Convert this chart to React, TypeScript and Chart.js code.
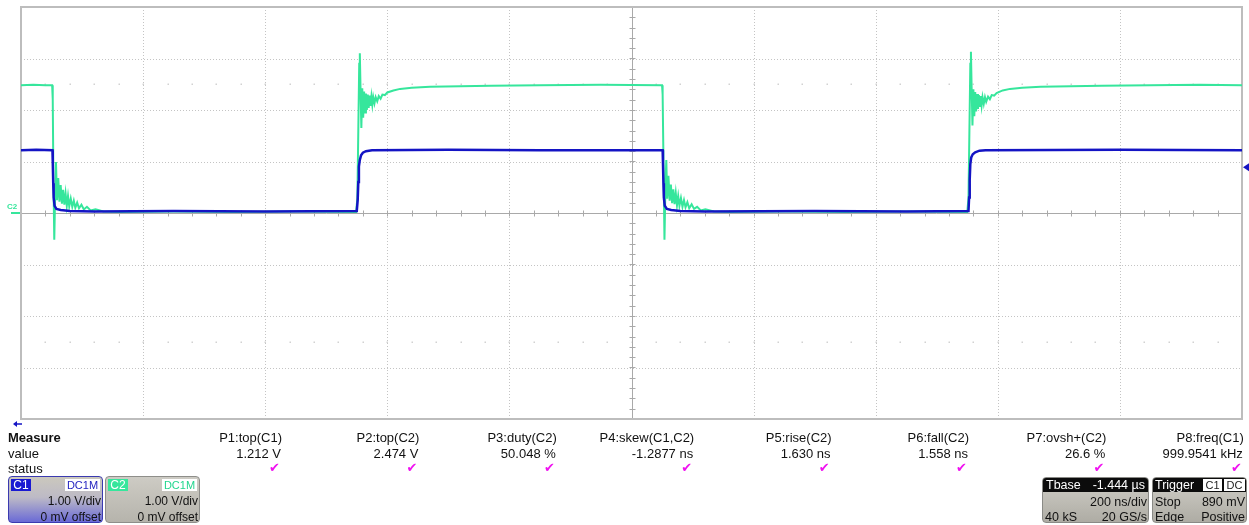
import React, { useEffect, useRef } from "react";
import { Chart, registerables } from "chart.js";

Chart.register(...registerables);

// ---- scope settings ----
const timeMinNs = 0;
const timeMaxNs = 2000;
const timePerDivNs = 200;
const voltMin = -4;
const voltMax = 4;
const voltPerDiv = 1;
const triggerLevelV = 0.89;

// ---- C2 trace (green), [time ns, volts] ----
const c2FallA: number[][] = [
  [0, 2.48], [20, 2.49], [40, 2.48], [51, 2.48], [52, 2.2], [53, 0.8], [54.5, -0.52], [56, 0.4], [57.3, 0.99],
  [59, 0.25], [61, 0.68], [63, 0.22], [65, 0.54], [67, 0.18], [69, 0.45], [71, 0.16], [73, 0.38], [75, 0.14],
  [77, 0.33], [79, 0.13], [81.5, 0.28], [84, 0.12], [86.5, 0.24], [89, 0.1], [92, 0.2], [95, 0.09], [99, 0.16],
  [103, 0.07], [108, 0.12], [114, 0.05], [122, 0.07], [135, 0.03], [160, 0.02], [250, 0.03], [350, 0.02],
  [450, 0.03], [549, 0.02],
];
const c2RiseA: number[][] = [
  [550, 0.02], [551, 0.3], [552.5, 1.6], [554, 2.9], [555, 3.1], [556, 2.5], [557.5, 1.65], [559, 2.42],
  [560.5, 1.85], [562, 2.36], [563.5, 1.95], [565, 2.32], [566.5, 2.0], [568, 2.3], [569.5, 2.04], [571, 2.28],
  [572.5, 2.08], [574, 2.26], [575.5, 2.1], [577, 2.25], [579, 2.13], [581, 2.25], [583.5, 2.17], [586, 2.27],
  [589, 2.22], [592, 2.3], [596, 2.29], [600, 2.34], [610, 2.38], [621, 2.41], [640, 2.43], [670, 2.45],
  [720, 2.46], [770, 2.47], [850, 2.48], [950, 2.49], [1049, 2.48],
];
const c2FallB: number[][] = [
  [1050, 2.48], [1051, 2.3], [1052.5, 0.9], [1054, -0.52], [1055.5, 0.45], [1057, 1.03], [1058.5, 0.28],
  [1060.5, 0.72], [1062.5, 0.24], [1064.5, 0.55], [1066.5, 0.19], [1068.5, 0.46], [1070.5, 0.17], [1072.5, 0.39],
  [1074.5, 0.15], [1076.5, 0.33], [1078.5, 0.14], [1081, 0.29], [1083.5, 0.12], [1086, 0.25], [1088.5, 0.11],
  [1091.5, 0.21], [1094.5, 0.09], [1098.5, 0.17], [1102.5, 0.08], [1107.5, 0.12], [1113.5, 0.05], [1121, 0.07],
  [1135, 0.03], [1160, 0.02], [1250, 0.03], [1350, 0.02], [1450, 0.03], [1550, 0.02],
];
const c2RiseB: number[][] = [
  [1551, 0.02], [1552, 0.3], [1553.5, 1.6], [1555, 2.9], [1556, 3.13], [1557, 2.5], [1558.5, 1.7], [1560, 2.4],
  [1561.5, 1.88], [1563, 2.35], [1564.5, 1.97], [1566, 2.31], [1567.5, 2.02], [1569, 2.29], [1570.5, 2.06],
  [1572, 2.27], [1573.5, 2.09], [1575, 2.25], [1577, 2.12], [1579, 2.25], [1581, 2.16], [1584, 2.26],
  [1587, 2.21], [1590, 2.29], [1594, 2.28], [1598, 2.33], [1608, 2.38], [1620, 2.41], [1640, 2.43],
  [1670, 2.45], [1720, 2.46], [1770, 2.47], [1850, 2.48], [1930, 2.49], [2000, 2.48],
];

// ---- C1 trace (blue), [time ns, volts] ----
const c1FallA: number[][] = [
  [0, 1.22], [25, 1.23], [51.5, 1.22], [52, 1.0], [52.8, 0.58], [53.5, 0.3], [55, 0.14], [58, 0.08], [65, 0.06],
  [80, 0.04], [120, 0.03], [250, 0.04], [400, 0.03], [550, 0.04],
];
const c1RiseA: number[][] = [
  [551.5, 0.25], [552.5, 0.6], [553.5, 0.9], [555, 1.03], [557, 1.12], [560, 1.17], [565, 1.2], [575, 1.22],
  [700, 1.23], [850, 1.22], [1051, 1.22],
];
const c1FallB: number[][] = [
  [1051.5, 1.0], [1052.3, 0.58], [1053, 0.3], [1054.5, 0.14], [1058, 0.08], [1065, 0.06], [1080, 0.04],
  [1120, 0.03], [1300, 0.04], [1450, 0.03], [1552, 0.04],
];
const c1RiseB: number[][] = [
  [1553, 0.3], [1554, 0.65], [1555, 0.95], [1556.5, 1.08], [1559, 1.14], [1563, 1.18], [1570, 1.21],
  [1580, 1.22], [1800, 1.23], [2000, 1.22],
];

// ---- measurement table ----
const measureNames = ["P1:top(C1)", "P2:top(C2)", "P3:duty(C2)", "P4:skew(C1,C2)", "P5:rise(C2)", "P6:fall(C2)", "P7:ovsh+(C2)", "P8:freq(C1)"];
const measureValues = ["1.212 V", "2.474 V", "50.048 %", "-1.2877 ns", "1.630 ns", "1.558 ns", "26.6 %", "999.9541 kHz"];

const C1_COLOR = "#1414c4";
const C2_COLOR = "#36e69c";
const FONT = '"Liberation Sans", Arial, Helvetica, sans-serif';

const toPoints = (segs: number[][][]) => segs.flat().map(([x, y]) => ({ x, y }));

const gridPlugin = {
  id: "scopeGrid",
  beforeDatasetsDraw(chart: any) {
    const { ctx, chartArea: a, scales } = chart;
    const xs = scales.x;
    const ys = scales.y;
    const line = (x1: number, y1: number, x2: number, y2: number) => {
      ctx.beginPath();
      ctx.moveTo(x1, y1);
      ctx.lineTo(x2, y2);
      ctx.stroke();
    };
    ctx.save();
    const midT = (timeMinNs + timeMaxNs) / 2;
    ctx.strokeStyle = "#c4c4c4";
    ctx.lineWidth = 1;
    ctx.setLineDash([1, 2]);
    for (let t = timeMinNs + timePerDivNs; t < timeMaxNs; t += timePerDivNs) {
      if (t === midT) continue;
      const px = Math.round(xs.getPixelForValue(t)) + 0.5;
      line(px, a.top, px, a.bottom);
    }
    for (let v = voltMin + voltPerDiv; v < voltMax; v += voltPerDiv) {
      if (v === 0) continue;
      const py = Math.round(ys.getPixelForValue(v)) + 0.5;
      line(a.left, py, a.right, py);
    }
    ctx.setLineDash([]);
    ctx.fillStyle = "#d2d2d2";
    [-2.5, 2.5].forEach((v) => {
      const py = Math.round(ys.getPixelForValue(v));
      for (let t = timeMinNs + timePerDivNs / 5; t < timeMaxNs; t += timePerDivNs / 5) {
        const px = Math.round(xs.getPixelForValue(t));
        ctx.fillRect(px - 0.5, py - 0.5, 1.5, 1.5);
      }
    });
    ctx.strokeStyle = "#a9a9a9";
    ctx.lineWidth = 1;
    const cx = Math.round(xs.getPixelForValue(midT)) + 0.5;
    const cy = Math.round(ys.getPixelForValue(0)) + 0.5;
    line(a.left, cy, a.right, cy);
    line(cx, a.top, cx, a.bottom);
    for (let t = timeMinNs; t <= timeMaxNs; t += timePerDivNs / 5) {
      const px = Math.round(xs.getPixelForValue(t)) + 0.5;
      line(px, cy - 3, px, cy + 3);
    }
    for (let v = voltMin; v <= voltMax + 1e-9; v += voltPerDiv / 5) {
      const py = Math.round(ys.getPixelForValue(v)) + 0.5;
      line(cx - 3, py, cx + 3, py);
    }
    ctx.strokeStyle = "#bdbdbd";
    ctx.lineWidth = 2;
    ctx.strokeRect(a.left, a.top, a.right - a.left, a.bottom - a.top);
    ctx.restore();
  },
  afterDraw(chart: any) {
    const { ctx, chartArea: a, scales } = chart;
    const ys = scales.y;
    ctx.save();
    const gy = ys.getPixelForValue(0);
    ctx.strokeStyle = C2_COLOR;
    ctx.lineWidth = 2;
    ctx.beginPath();
    ctx.moveTo(11, gy);
    ctx.lineTo(a.left - 1, gy);
    ctx.stroke();
    const ty = ys.getPixelForValue(triggerLevelV);
    ctx.fillStyle = C1_COLOR;
    ctx.beginPath();
    ctx.moveTo(a.right + 1, ty);
    ctx.lineTo(a.right + 7, ty - 4);
    ctx.lineTo(a.right + 7, ty + 4);
    ctx.closePath();
    ctx.fill();
    const ay = a.bottom + 5;
    ctx.beginPath();
    ctx.moveTo(13, ay);
    ctx.lineTo(17, ay - 3);
    ctx.lineTo(17, ay + 3);
    ctx.closePath();
    ctx.fill();
    ctx.strokeStyle = C1_COLOR;
    ctx.lineWidth = 1.5;
    ctx.beginPath();
    ctx.moveTo(16, ay);
    ctx.lineTo(22, ay);
    ctx.stroke();
    ctx.restore();
  },
};

const abs = (s: React.CSSProperties): React.CSSProperties => ({ position: "absolute", whiteSpace: "nowrap", ...s });

function ChannelBox({ left, tag, tagColor, dcColor, bg, border }: any) {
  return (
    <div style={abs({ left, top: 476, width: 95, height: 47, boxSizing: "border-box", border: `1px solid ${border}`, borderRadius: 4, background: bg, fontSize: 12, color: "#111" })}>
      <div style={abs({ left: 2, top: 2, width: 20, height: 12, background: tagColor, color: "#fff", fontSize: 12, lineHeight: "12px", textAlign: "center" })}>{tag}</div>
      <div style={abs({ right: 2, top: 2, width: 35, height: 12, background: "#fff", color: dcColor, fontSize: 11, lineHeight: "12px", textAlign: "center" })}>DC1M</div>
      <div style={abs({ right: 1, top: 17, lineHeight: "14px" })}>1.00 V/div</div>
      <div style={abs({ right: 1, top: 33, lineHeight: "14px" })}>0 mV offset</div>
    </div>
  );
}

export default function App() {
  const ref = useRef<HTMLCanvasElement>(null);
  useEffect(() => {
    document.body.style.margin = "0";
    const chart = new Chart(ref.current as HTMLCanvasElement, {
      type: "line",
      data: {
        datasets: [
          { label: "C1", data: toPoints([c1FallA, c1RiseA, c1FallB, c1RiseB]), borderColor: C1_COLOR, borderWidth: 2.5, pointRadius: 0, tension: 0, fill: false },
          { label: "C2", data: toPoints([c2FallA, c2RiseA, c2FallB, c2RiseB]), borderColor: C2_COLOR, borderWidth: 2, pointRadius: 0, tension: 0, fill: false },
        ],
      },
      options: {
        responsive: false,
        animation: false,
        devicePixelRatio: 1,
        events: [],
        parsing: false,
        layout: { padding: { left: 21, top: 7, right: 7, bottom: 106 } },
        plugins: { legend: { display: false }, tooltip: { enabled: false } },
        scales: {
          x: { type: "linear", min: timeMinNs, max: timeMaxNs, display: false },
          y: { type: "linear", min: voltMin, max: voltMax, display: false },
        },
      } as any,
      plugins: [gridPlugin as any],
    });
    return () => chart.destroy();
  }, []);

  return (
    <div style={{ position: "fixed", left: 0, top: 0, width: 1249, height: 525, background: "#fff", fontFamily: FONT, overflow: "hidden" }}>
      <canvas ref={ref} width={1249} height={525} style={{ position: "absolute", left: 0, top: 0 }} />
      <div style={abs({ left: 7, top: 202, fontSize: 8, fontWeight: "bold", color: C2_COLOR, lineHeight: "9px" })}>C2</div>

      <div style={abs({ left: 8, top: 430, fontSize: 13, fontWeight: "bold", lineHeight: "15px", color: "#111" })}>Measure</div>
      <div style={abs({ left: 8, top: 446, fontSize: 13, lineHeight: "15px", color: "#111" })}>value</div>
      <div style={abs({ left: 8, top: 461, fontSize: 13, lineHeight: "15px", color: "#111" })}>status</div>
      {measureNames.map((name, i) => {
        const right = 282 + i * 137.4;
        return (
          <React.Fragment key={name}>
            <div style={abs({ left: right - 160, width: 160, textAlign: "right", top: 430, fontSize: 13, lineHeight: "15px", color: "#111" })}>{name}</div>
            <div style={abs({ left: right - 160, width: 159, textAlign: "right", top: 446, fontSize: 13, lineHeight: "15px", color: "#111" })}>{measureValues[i]}</div>
            <div style={abs({ left: right - 160, width: 158, textAlign: "right", top: 460, fontSize: 13, lineHeight: "15px", color: "#f010f0", fontFamily: '"DejaVu Sans", sans-serif' })}>✔</div>
          </React.Fragment>
        );
      })}

      <ChannelBox left={8} tag="C1" tagColor="#1a1ad2" dcColor="#2424c0" border="#3a3ab0" bg="linear-gradient(#cbc8bd 0%, #bdbac6 45%, #6a6ad6 100%)" />
      <ChannelBox left={105} tag="C2" tagColor={C2_COLOR} dcColor="#22d68e" border="#8e8e8a" bg="linear-gradient(#cdcbc4 0%, #b6b4ac 100%)" />

      <div style={abs({ left: 1042, top: 477, width: 107, height: 46, boxSizing: "border-box", border: "1px solid #8a8a86", borderRadius: 4, background: "linear-gradient(#d0cec7 0%, #aeaca4 100%)", fontSize: 12.5, color: "#111", overflow: "hidden" })}>
        <div style={abs({ left: 0, top: 0, width: "100%", height: 14, background: "#0c0c0c" })} />
        <div style={abs({ left: 3, top: 0, lineHeight: "14px", color: "#fff" })}>Tbase</div>
        <div style={abs({ right: 3, top: 0, lineHeight: "14px", color: "#fff" })}>-1.444 µs</div>
        <div style={abs({ right: 1, top: 17, lineHeight: "14px" })}>200 ns/div</div>
        <div style={abs({ left: 2, top: 32, lineHeight: "14px" })}>40 kS</div>
        <div style={abs({ right: 1, top: 32, lineHeight: "14px" })}>20 GS/s</div>
      </div>

      <div style={abs({ left: 1152, top: 477, width: 95, height: 46, boxSizing: "border-box", border: "1px solid #8a8a86", borderRadius: 4, background: "linear-gradient(#d0cec7 0%, #aeaca4 100%)", fontSize: 12.5, color: "#111", overflow: "hidden" })}>
        <div style={abs({ left: 0, top: 0, width: "100%", height: 14, background: "#0c0c0c" })} />
        <div style={abs({ left: 2, top: 0, lineHeight: "14px", color: "#fff" })}>Trigger</div>
        <div style={abs({ left: 50, top: 1, width: 19, height: 12, background: "#fff", color: "#222", fontSize: 11, lineHeight: "12px", textAlign: "center" })}>C1</div>
        <div style={abs({ left: 71, top: 1, width: 21, height: 12, background: "#fff", color: "#222", fontSize: 11, lineHeight: "12px", textAlign: "center" })}>DC</div>
        <div style={abs({ left: 2, top: 17, lineHeight: "14px" })}>Stop</div>
        <div style={abs({ right: 1, top: 17, lineHeight: "14px" })}>890 mV</div>
        <div style={abs({ left: 2, top: 32, lineHeight: "14px" })}>Edge</div>
        <div style={abs({ right: 1, top: 32, lineHeight: "14px" })}>Positive</div>
      </div>
    </div>
  );
}
